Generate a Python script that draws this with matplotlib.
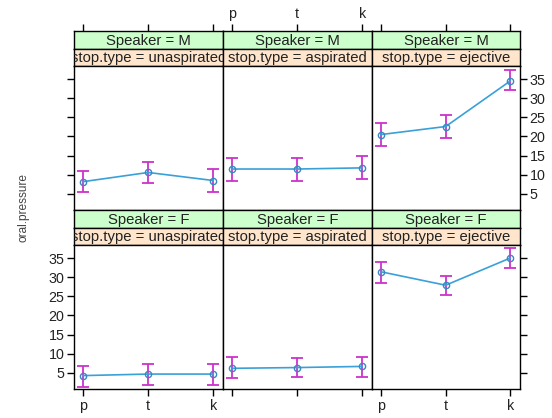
import matplotlib
matplotlib.use("Agg")
import matplotlib.pyplot as plt

plt.rcParams['font.family'] = ['Liberation Sans', 'DejaVu Sans']

# data
stops = ['p', 't', 'k']
stop_types = ['unaspirated', 'aspirated', 'ejective']
speakers = ['M', 'F']

m_unasp = [8.2, 10.6, 8.5]
m_unasp_lo = [5.6, 7.8, 5.5]
m_unasp_hi = [11.0, 13.4, 11.4]
m_asp = [11.5, 11.5, 11.8]
m_asp_lo = [8.4, 8.5, 8.8]
m_asp_hi = [14.5, 14.5, 14.8]
m_ej = [20.5, 22.6, 34.5]
m_ej_lo = [17.5, 19.5, 32.2]
m_ej_hi = [23.4, 25.6, 37.4]

f_unasp = [4.3, 4.7, 4.7]
f_unasp_lo = [1.3, 1.8, 1.9]
f_unasp_hi = [6.9, 7.3, 7.2]
f_asp = [6.2, 6.4, 6.7]
f_asp_lo = [3.6, 3.9, 4.0]
f_asp_hi = [9.1, 8.8, 9.2]
f_ej = [31.4, 27.9, 35.0]
f_ej_lo = [28.4, 25.3, 32.4]
f_ej_hi = [33.9, 30.3, 37.6]

yticks = [5, 10, 15, 20, 25, 30, 35]

panels = {
    ('M', 'unaspirated'): (m_unasp, m_unasp_lo, m_unasp_hi),
    ('M', 'aspirated'): (m_asp, m_asp_lo, m_asp_hi),
    ('M', 'ejective'): (m_ej, m_ej_lo, m_ej_hi),
    ('F', 'unaspirated'): (f_unasp, f_unasp_lo, f_unasp_hi),
    ('F', 'aspirated'): (f_asp, f_asp_lo, f_asp_hi),
    ('F', 'ejective'): (f_ej, f_ej_lo, f_ej_hi),
}

W, H = 552, 418
fig = plt.figure(figsize=(W / 100, H / 100), dpi=100)


def box(x0, y0, x1, y1):
    # pixel box (top-left origin) -> figure fraction
    return [x0 / W, 1 - y1 / H, (x1 - x0) / W, (y1 - y0) / H]


col_edges = [74, 223, 372, 520]
row_tops = [31, 210]
strip_h = 17.5
row_bottom = [210, 389]

line_col = '#3aa0d8'
err_col = '#cc33cc'
fs = 10.3
strip_fs = 10.7

for r, spk in enumerate(speakers):
    top = row_tops[r]
    for c, st in enumerate(stop_types):
        x0, x1 = col_edges[c], col_edges[c + 1]
        # strips
        s1 = fig.add_axes(box(x0, top, x1, top + strip_h))
        s1.set_facecolor('#ccffcc')
        s2 = fig.add_axes(box(x0, top + strip_h, x1, top + 2 * strip_h))
        s2.set_facecolor('#ffe5cc')
        for s, txt in ((s1, 'Speaker = ' + spk), (s2, 'stop.type = ' + st)):
            s.set_xticks([])
            s.set_yticks([])
            for sp in s.spines.values():
                sp.set_linewidth(1)
            s.text(0.5, 0.45, txt, transform=s.transAxes, ha='center',
                   va='center', fontsize=strip_fs, color='#222222',
                   clip_on=True)

        ax = fig.add_axes(box(x0, top + 2 * strip_h, x1, row_bottom[r]))
        mean, lo, hi = panels[(spk, st)]
        xs = range(1, len(stops) + 1)
        yerr = [[m - l for m, l in zip(mean, lo)], [h - m for m, h in zip(mean, hi)]]
        ax.errorbar(xs, mean, yerr=yerr, fmt='none', ecolor=err_col,
                    elinewidth=1.3, capsize=4.3, capthick=1.3, zorder=2)
        ax.plot(xs, mean, color=line_col, lw=1.2, zorder=3)
        ax.plot(xs, mean, 'o', mfc='none', mec='#3a88c0', ms=4.5, mew=1,
                zorder=4)
        ax.set_xlim(0.86, 3.15)
        ax.set_ylim(0.8, 38.4)
        ax.set_xticks(list(xs))
        ax.set_yticks(yticks)
        for sp in ax.spines.values():
            sp.set_linewidth(1)
        ax.tick_params(direction='out', length=5, width=1, labelsize=fs,
                       pad=2, labelcolor='#222222')

        # x axis: bottom row ticks at bottom
        if r == 1:
            ax.xaxis.set_ticks_position('bottom')
            ax.set_xticklabels(stops if c != 1 else [])
        else:
            # top row ticks sit above the strips
            ax.tick_params(axis='x', top=False, bottom=False,
                           labeltop=False, labelbottom=False)
            s1.set_xlim(ax.get_xlim())
            s1.set_xticks(list(xs))
            s1.xaxis.set_ticks_position('top')
            s1.tick_params(direction='out', length=5, width=1, labelsize=fs,
                           pad=2, labelcolor='#222222')
            s1.set_xticklabels(stops if c == 1 else [])

        # y axis
        if c == 0:
            ax.yaxis.set_ticks_position('left')
            ax.set_yticklabels([str(v) for v in yticks] if r == 1 else [])
        elif c == 2:
            ax.yaxis.set_ticks_position('right')
            ax.set_yticklabels([str(v) for v in yticks] if r == 0 else [])
        else:
            ax.tick_params(axis='y', left=False, right=False,
                           labelleft=False, labelright=False)

fig.text(24 / W, 1 - 207 / H, 'oral.pressure', rotation=90, ha='center',
         va='center', fontsize=8.6, color='#444444')

fig.savefig('out.png', dpi=100)
